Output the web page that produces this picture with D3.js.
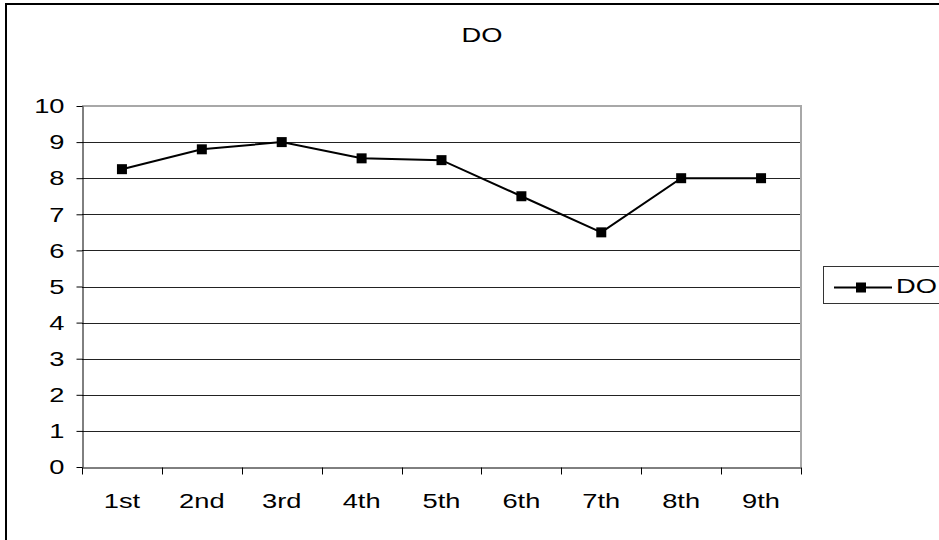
<!DOCTYPE html>
<html>
<head>
<meta charset="utf-8">
<script src="https://cdn.jsdelivr.net/npm/d3@7"></script>
<style>
  html, body { margin: 0; padding: 0; background: #fff; }
  svg { display: block; font-family: "Liberation Sans", Arial, sans-serif; }
</style>
</head>
<body>
<svg id="chart" width="939" height="540"></svg>
<script>
// Dissolved oxygen readings per sampling round
const categories = ["1st", "2nd", "3rd", "4th", "5th", "6th", "7th", "8th", "9th"];
const doValues = [8.25, 8.8, 9.0, 8.55, 8.5, 7.5, 6.5, 8.0, 8.0];
const yTicks = [0, 1, 2, 3, 4, 5, 6, 7, 8, 9, 10];
const seriesName = "DO";
const chartTitle = "DO";

const FONT = 21;      // label font size
const STRETCH = 1.3;  // horizontal stretch of the label lettering

const svg = d3.select("#chart");
const plot = { left: 82, right: 801, top: 106, bottom: 467 };

// Widen lettering horizontally while keeping each label anchored at its x
function stretch(sel) {
  sel.each(function () {
    const t = d3.select(this);
    const x0 = +(t.attr("x") || 0);
    t.attr("x", x0 / STRETCH).attr("transform", `scale(${STRETCH},1)`);
  });
}

// Outer chart frame (only the top and left edges fall inside the view)
svg.append("rect")
  .attr("x", 6).attr("y", 4)
  .attr("width", 1000).attr("height", 1000)
  .attr("fill", "none").attr("stroke", "#000").attr("stroke-width", 2);

const x = d3.scaleBand().domain(categories).range([plot.left, plot.right]);
const y = d3.scaleLinear().domain([0, 10]).range([plot.bottom, plot.top]);

// Horizontal gridlines
svg.append("g").selectAll("line")
  .data(yTicks.filter(t => t > 0 && t < 10))
  .join("line")
  .attr("x1", plot.left).attr("x2", plot.right)
  .attr("y1", d => Math.round(y(d)) + 0.5).attr("y2", d => Math.round(y(d)) + 0.5)
  .attr("stroke", "#222").attr("stroke-width", 1);

// Plot area border: grey top and right edges
svg.append("line")
  .attr("x1", plot.left).attr("x2", plot.right + 1)
  .attr("y1", plot.top).attr("y2", plot.top)
  .attr("stroke", "#a8a8a8").attr("stroke-width", 2);
svg.append("line")
  .attr("x1", plot.right).attr("x2", plot.right)
  .attr("y1", plot.top).attr("y2", plot.bottom)
  .attr("stroke", "#a8a8a8").attr("stroke-width", 2);

// Y axis
const yAxis = svg.append("g")
  .attr("transform", `translate(${plot.left + 0.5},0)`)
  .call(d3.axisLeft(y).tickValues(yTicks).tickSize(6).tickSizeOuter(0).tickPadding(12));
yAxis.attr("font-size", null).attr("font-family", null);
yAxis.select(".domain").attr("stroke", "#000");
yAxis.selectAll(".tick line").attr("stroke", "#000");
yAxis.selectAll(".tick text")
  .attr("font-size", FONT).attr("fill", "#000")
  .call(stretch);

// X axis with ticks at category boundaries
const xAxis = svg.append("g")
  .attr("transform", `translate(0,${plot.bottom + 0.5})`)
  .call(d3.axisBottom(x).tickSize(0).tickPadding(26));
xAxis.attr("font-size", null).attr("font-family", null);
xAxis.select(".domain").attr("stroke", "#000");
xAxis.selectAll(".tick text")
  .attr("font-size", FONT).attr("fill", "#000")
  .call(stretch);
const bounds = categories.map(c => x(c)).concat([x(categories[categories.length - 1]) + x.bandwidth()]);
xAxis.append("g").selectAll("line")
  .data(bounds)
  .join("line")
  .attr("x1", d => Math.round(d) + 0.5).attr("x2", d => Math.round(d) + 0.5)
  .attr("y1", 0).attr("y2", 7)
  .attr("stroke", "#000");

// Series line and square markers
const cx = c => x(c) + x.bandwidth() / 2;
const pts = categories.map((c, i) => [cx(c), y(doValues[i])]);
svg.append("path")
  .attr("d", d3.line()(pts))
  .attr("fill", "none").attr("stroke", "#000").attr("stroke-width", 2);
const ms = 10;
svg.append("g").selectAll("rect")
  .data(pts)
  .join("rect")
  .attr("x", d => d[0] - ms / 2).attr("y", d => d[1] - ms / 2)
  .attr("width", ms).attr("height", ms)
  .attr("fill", "#000");

// Title
svg.append("g").attr("transform", "translate(482,42)")
  .append("text")
  .attr("text-anchor", "middle")
  .attr("font-size", FONT).attr("fill", "#000")
  .text(chartTitle)
  .call(stretch);

// Legend
const lg = svg.append("g").attr("transform", "translate(823,266)");
lg.append("rect")
  .attr("x", 0.5).attr("y", 0.5).attr("width", 116).attr("height", 37)
  .attr("fill", "#fff").attr("stroke", "#333").attr("stroke-width", 1);
lg.append("line")
  .attr("x1", 11).attr("x2", 69).attr("y1", 21.5).attr("y2", 21.5)
  .attr("stroke", "#000").attr("stroke-width", 2);
lg.append("rect")
  .attr("x", 33).attr("y", 16.5).attr("width", ms).attr("height", ms)
  .attr("fill", "#000");
lg.append("g").attr("transform", "translate(73,27)")
  .append("text")
  .attr("font-size", FONT).attr("fill", "#000")
  .text(seriesName)
  .call(stretch);
</script>
</body>
</html>
